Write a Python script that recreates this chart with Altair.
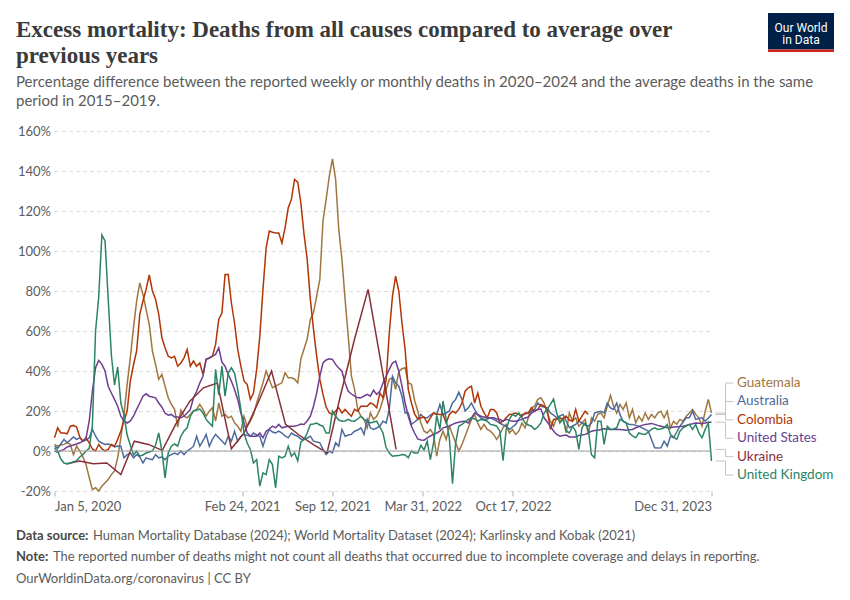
import altair as alt
import numpy as np
import pandas as pd

# Excess mortality, % vs 2015-2019 average.
# Weekly series: one value per week, first week ending Jan 5, 2020.
START = pd.Timestamp("2020-01-05")

guatemala = [
    3.3, 2.4, 3, 3.3, 4.1, 3.3, -1.8, 2.4, 0, -3, -6.8, -13.4, -19.3, -18.4, -20, -17.6,
    -15.9, -14.3, -11.8, -10, -3.4, 6.6, 18.3, 33.3, 46.6, 61.6, 74.9, 84, 78.3, 70.8, 63.3, 49.9,
    43.3, 35.8, 38.3, 32.4, 26.6, 23.3, 21, 12, 20.5, 17.4, 16.6, 18.3, 19.9, 20.8, 23.3, 20.8,
    17.4, 19.9, 21.6, 15, 24, 17.4, 18.3, 16.6, 17.4, 14.1, 12.4, 9.9, 17.4, 12.4, 14.9, 18.3,
    24, 29, 34.1, 40, 35.8, 31.6, 32.4, 33.3, 34.1, 39.1, 36.6, 36.6, 36, 34, 46, 51,
    56, 65.8, 69.1, 77.4, 85.8, 115, 125.8, 137.4, 146.1, 135.8, 110.8, 95.8, 75.8, 57.4, 37.4, 30.8,
    20.8, 17.4, 15.8, 11.6, 19.1, 15.8, 17.4, 20.8, 25.8, 30.8, 35.8, 36.6, 30.8, 39.9, 41.1, 41.6,
    34, 33.3, 25.4, 20, 14, 9.9, 9, 10.8, 8.3, -2.6, 5.8, 9.9, 5.8, 12.4, 8.3, 4.1,
    0, 3.3, 7.4, 11.6, 15.8, 18.3, 14, 10.8, 13.3, 10.8, 9.9, 8.3, 5.8, 8.3, 11.6, 13.3,
    9, 10.8, 8.3, 9.9, 14, 11.6, 16.6, 21.6, 22.4, 25.8, 26.6, 24, 19, 14.9, 12.4, 16.6,
    14.9, 16.6, 9.1, 19.1, 14.9, 16.6, 12.4, 14, 15.8, 8.3, 16.6, 14.9, 18.3, 19, 16.6, 22.4,
    27.8, 22.4, 19, 23.3, 20.8, 24, 16.6, 20.8, 14, 17.4, 14.9, 19, 15.8, 18.3, 16.6, 19,
    19.9, 16.6, 19.9, 11.6, 14.9, 13.3, 15.8, 14.9, 17.4, 19, 20.8, 18.3, 16.6, 12.4, 19.9, 25.8,
    19,
]

australia = [
    2.4, 1.3, 3.5, 5.8, 4.1, 5.5, 7, 5.8, 6.6, 4.9, 5.5, 6.6, 10.8, 7.4, 4.9, 4,
    3.3, 3.5, 3, 2, 2.5, 2.4, -3.4, -1.8, -1, -3.4, -1.8, -3, -6, -3.4, -4, -4.3,
    -1.8, -3.4, -3, -4.3, -2.5, -1.8, -1, -1.8, 0, -1.8, 0, 1, 2.4, 7.4, 2.4, 5,
    8.3, 2.4, 5.8, 8.3, 6.6, 5, 3.3, 7.4, 4.9, 9.9, 4.9, 7.4, 8.3, 7.8, 7.4, 9,
    8, 7.4, 2.4, 7.4, 10.8, 9.5, 9, 9.9, 9, 7.5, 6.6, 9, 8, 7.4, 6, 5.8,
    6.5, 7.4, 4.9, 4.5, 4.1, 0.8, -1.8, 0, -0.9, 4.1, 2.4, 10.8, 7.4, 8, 8.3, 9.9,
    10.5, 11.6, 8.3, 15.8, 11.6, 10.8, 11.5, 12.4, 14.9, 14, 20.8, 37.4, 34, 32.4, 27.4, 19,
    19, 13.3, 14.5, 15.8, 18.3, 16.6, 16.6, 18, 19, 18.3, 23.3, 18.3, 19, 20, 24, 25.8,
    29.4, 25.8, 20, 21.6, 24, 20.8, 18, 16.6, 15.8, 16, 16.6, 15.8, 15, 14, 13, 12.4,
    10.8, 12, 13.3, 15.8, 18.3, 18.5, 19, 20, 20.8, 24, 22.4, 22, 21.6, 19, 18, 16.6,
    17.5, 18.3, 15, 11.6, 12.5, 13.3, 14.9, 14, 13, 12.4, 14, 19, 19.5, 19.9, 19, 24,
    21.6, 20.8, 24, 18.3, 14.9, 14, 13.3, 13.3, 12.8, 12.4, 11.6, 10.8, 9.9, 5.8, 1.6, 1.5,
    1.6, 4.9, 2.4, 7.4, 6.6, 9.5, 12.4, 14.5, 16.6, 16.6, 19.9, 15.8, 16.2, 16.6, 14.9, 16.5,
    18.3,
]

colombia = [
    6.6, 11.6, 9, 9, 8.6, 12.4, 12.8, 12, 7, 4.9, 6.6, 4, 1, 0, 3.3, 1,
    0, 0.8, 3.3, 2.4, 5.8, 10, 15, 20, 35, 43, 50, 68.3, 75, 80.8, 88, 80,
    75.8, 68.3, 56.6, 51.6, 47.4, 46.6, 47.4, 42.4, 44, 46.6, 50.8, 42.4, 45, 42.4, 44, 38.3,
    45.8, 46.5, 47.4, 53.3, 65.8, 69, 88.3, 88.3, 74, 64, 50.8, 42.4, 35, 33.3, 25.8, 29,
    40.8, 57.4, 80.8, 101.6, 110, 109.4, 109, 109, 104, 111.6, 121.6, 125.8, 135.8, 134.4, 124, 108.3,
    95.8, 75.8, 60.8, 47.4, 35.8, 28.3, 22, 19, 18.3, 20, 21.6, 19, 20.8, 19, 17.4, 20.8,
    19.9, 22.4, 22.4, 22.4, 24, 23.3, 21.6, 29, 26.6, 35.8, 59.1, 77.4, 87.4, 80, 64, 50.8,
    30.8, 24, 18.5, 16, 16.6, 17, 14, 16.6, 19, 18.5, 18.3, 18.3, 14, 18.3, 19.9, 19,
    20.8, 24, 29.9, 31.6, 32.4, 24, 29, 22.4, 19, 16.6, 20.8, 20.8, 19, 14, 14.9, 16.6,
    18.3, 18.5, 19, 18.3, 17.4, 19, 19, 21.6, 19.9, 20.8, 23.3, 22.4, 20.8, 10.8, 15.8, 16,
    16.6, 15.8, 17.4, 15.5, 14.9, 20.8, 14.9, 17.4, 19.9, 18.3,
]

united_states = [
    0, -0.6, 0.2, 0.8, 2, 2.5, 3, 3.5, 4.1, 4.9, 6.6, 15, 30, 41.6, 45.3, 43.3,
    40, 32.4, 29, 25.8, 22.4, 17.4, 15, 14, 15, 17.4, 20.8, 24, 27.4, 28.6, 27.4, 27,
    26.6, 24, 21.9, 19, 17.9, 18.3, 17, 17, 16.6, 17.4, 19, 20.8, 26.6, 29.9, 34, 37.4,
    45.8, 46.5, 47.4, 48.3, 51.6, 44.4, 42.4, 38.3, 34.9, 30.8, 25.8, 19, 14, 9, 7.4, 7.4,
    7.4, 9, 6.6, 9.9, 11, 12.4, 11.6, 13.3, 11.6, 12, 12.4, 12.4, 12.4, 12.8, 13.5, 13.3,
    15, 17.4, 22.4, 29, 37.4, 44, 45.5, 46.1, 45.8, 43.3, 41.5, 39.9, 34, 29.9, 28.5, 27.4,
    26.6, 26.6, 27.5, 28.3, 27.4, 30.4, 28.3, 29.9, 34, 37.5, 40.8, 44, 44.9, 39.9, 32.4, 24,
    17.4, 12.4, 9, 6, 5.5, 5.4, 6.6, 7.5, 8.3, 9, 9.9, 11.6, 12, 12.4, 13.3, 14,
    14.4, 14.7, 14.9, 14, 16.6, 19, 18.3, 17.4, 17, 16.6, 16.6, 16.6, 16, 15.8, 14.9, 15.8,
    15.3, 14.9, 14.9, 15.3, 15.8, 16.5, 17, 19, 20, 20.8, 21, 16.6, 14.5, 12.4, 10, 8.3,
    7.4, 7.8, 8, 7, 7, 7, 7.8, 8, 8.3, 9, 9.9, 10.2, 10.4, 10.8, 11.1, 11,
    10.8, 10.8, 10.8, 10.8, 10.6, 10.4, 10.6, 10.8, 11.6, 12.2, 12.8, 13.3, 13.5, 13.8, 13.3, 12.8,
    12.4, 12, 11.6, 11.8, 12, 12.1, 12.2, 12.4, 12.8, 13.3, 13.6, 14, 13.9, 13.8, 14, 14.4,
    14.4,
]

united_kingdom = [
    1.5, 0, -4, -6, -6.4, -6, -5.4, -4.8, -3, -1.8, 0, 1.3, 13, 60, 77, 108,
    105, 76, 48, 33, 42, 24, 18, 8, 3, -2, 0, -2.6, -2, -1, -0.5, 0,
    3, 9, 0, -13.4, -1, 2.4, 3.5, 2.5, 7.4, 10, 11.6, 17.4, 20, 20.5, 21, 19,
    15.8, 14, 12.4, 40.8, 28, 42.4, 27.4, 39, 41.6, 39, 30.8, 20.8, 9, 4, 0.8, -6,
    -4.3, -17.6, -10.9, -11.8, -4.3, -6.8, -18.4, -2.6, -3.4, -2.6, 2.4, -2.6, -0.9, -5, 4.5, 5.8,
    9, 13.3, 13.5, 14, 13, 12.4, 9, 9, 19.9, 17.4, 15.5, 14.9, 15, 15.8, 15, 14.9,
    16, 17.4, 15.8, 15, 14, 14.5, 14.9, 12, 9, 1.6, -1, -2.6, -2.4, -2.3, -1.8, -2,
    -3.4, 0, -1, -1, 2.8, 0.5, 4.9, -4.3, 4, 17.8, 10.8, 25, 15.8, 6.6, -16.3, 4.1,
    12.4, 13.3, 14.5, 15.8, 16.6, 16, 14.9, 15.8, 15.5, 14.9, 13.3, 13, 12.4, 9.9, -4.8, 10.8,
    15.8, 18.3, 17.4, 19, 16.6, 14, 13, 12.4, 10.8, 12, 14, 19, 21, 23.3, 26, 19,
    14, 16, 10, 9, 12.4, 9.9, 0.8, 11.6, 14, 10.8, -1.8, -3.4, 14.9, 14.9, 3.3, 12.4,
    10.8, 11, 11.6, 15.8, 15, 14, 9, 7.5, 6.6, 9, 8.5, 8.3, 9.5, 10.8, 11.6, 10.8,
    11, 11.6, 13.3, 8.3, 7, 5.8, 9.9, 11.6, 12.5, 13.3, 10.8, 13.3, 9, 6.6, 10.8, 14,
    -5,
]

# Ukraine reports monthly (value at month end)
ukraine_months = [
    "2020-01-31", "2020-02-29", "2020-03-31", "2020-04-30", "2020-05-31", "2020-06-30",
    "2020-07-31", "2020-08-31", "2020-09-30", "2020-10-31", "2020-11-30", "2020-12-31",
    "2021-01-31", "2021-02-28", "2021-03-31", "2021-04-30", "2021-05-31", "2021-06-30",
    "2021-07-31", "2021-08-31", "2021-09-30", "2021-10-31", "2021-11-30", "2021-12-31",
    "2022-01-31",
]
ukraine = [
    -6.5, -5, -6.4, -6, -11.8, 4.9, 3.3, 0.3, 13.6, 24.9, 31.6, 34,
    1.1, 9, 24, 40, 13.3, 8, 3.3, -0.9, 28, 56, 80.8, 40.8, 0.8,
]

countries = ["Guatemala", "Australia", "Colombia", "United States", "Ukraine", "United Kingdom"]
colors = ["#a0763f", "#4c6a9c", "#b13507", "#6d3e91", "#883039", "#2c8465"]

x_ticks = ["2020-01-05", "2021-02-24", "2021-09-12", "2022-03-31", "2022-10-17", "2023-12-31"]
y_ticks = [-20, 0, 20, 40, 60, 80, 100, 120, 140, 160]

title_lines = [
    "Excess mortality: Deaths from all causes compared to average over",
    "previous years",
]
subtitle_lines = [
    "Percentage difference between the reported weekly or monthly deaths in 2020–2024 and the average deaths in the same",
    "period in 2015–2019.",
]
source_text = "Human Mortality Database (2024); World Mortality Dataset (2024); Karlinsky and Kobak (2021)"
note_text = "The reported number of deaths might not count all deaths that occurred due to incomplete coverage and delays in reporting."
url_text = "OurWorldinData.org/coronavirus | CC BY"

W, H = 657, 360
FONT = "Lato"
GREY = "#5b5b5b"


def weekly(name, values):
    dates = START + pd.to_timedelta(np.arange(len(values)) * 7, unit="D")
    return pd.DataFrame({"date": dates, "value": values, "country": name})


df = pd.concat([
    weekly("Guatemala", guatemala),
    weekly("Australia", australia),
    weekly("Colombia", colombia),
    weekly("United States", united_states),
    pd.DataFrame({"date": pd.to_datetime(ukraine_months), "value": ukraine, "country": "Ukraine"}),
    weekly("United Kingdom", united_kingdom),
], ignore_index=True)


def spread(vals, gap):
    """Push label positions apart so that neighbours are at least `gap` apart."""
    pos = list(vals)
    for _ in range(2000):
        done = True
        for i in range(1, len(pos)):
            overlap = gap - (pos[i - 1] - pos[i])
            if overlap > 1e-6:
                pos[i - 1] += overlap / 2
                pos[i] -= overlap / 2
                done = False
        if done:
            break
    return pos


last = df.groupby("country", sort=False)["value"].last()
order = sorted(countries, key=lambda c: -last[c])
labels = pd.DataFrame({"country": order, "value": [last[c] for c in order]})
labels["pos"] = spread(labels["value"].tolist(), 9.2)


def dt(s):
    t = pd.Timestamp(s)
    return alt.DateTime(year=t.year, month=t.month, date=t.day)


x_scale = alt.Scale(domain=[dt(x_ticks[0]), dt(x_ticks[-1])])
y_scale = alt.Scale(domain=[-20, 160], nice=False, zero=False)
color_scale = alt.Scale(domain=countries, range=colors)

# same y axis on every layer so the merged axis keeps its grid and labels
y_axis = alt.Axis(
    values=y_ticks,
    labelExpr="datum.value + '%'",
    title=None, domain=False, ticks=False,
    grid=True, gridDash=[4, 3], gridColor="#dcdcdc",
    labelFont=FONT, labelFontSize=13, labelColor=GREY, labelPadding=4,
)

lines = alt.Chart(df).mark_line(strokeWidth=1.5).encode(
    x=alt.X(
        "date:T",
        scale=x_scale,
        axis=alt.Axis(
            values=[dt(t) for t in x_ticks],
            format="%b %-d, %Y",
            labelAlign={"expr": "datum.index == 0 ? 'left' : (datum.index == 1 ? 'right' : 'center')"},
            title=None, grid=False, domain=False,
            tickSize=5, tickColor="#b0b0b0",
            labelFont=FONT, labelFontSize=13, labelColor=GREY, labelPadding=4,
        ),
    ),
    y=alt.Y("value:Q", scale=y_scale, axis=y_axis),
    color=alt.Color("country:N", scale=color_scale, legend=None),
    detail="country:N",
)

zero = alt.Chart(pd.DataFrame({"value": [0]})).mark_rule(color="#9e9e9e", strokeWidth=1).encode(
    y=alt.Y("value:Q", scale=y_scale, axis=y_axis),
)

# connectors from the line ends to the labels at the right
conn_base = alt.Chart(labels).mark_rule(color="#c4c4c4", strokeWidth=1)
conn1 = conn_base.encode(
    x=alt.value(W + 4), x2=alt.value(W + 14),
    y=alt.Y("value:Q", scale=y_scale, axis=y_axis),
)
conn2 = conn_base.encode(
    x=alt.value(W + 14),
    y=alt.Y("value:Q", scale=y_scale, axis=y_axis), y2="pos:Q",
)
conn3 = conn_base.encode(
    x=alt.value(W + 14), x2=alt.value(W + 22),
    y=alt.Y("pos:Q", scale=y_scale, axis=y_axis),
)
label_text = alt.Chart(labels).mark_text(
    align="left", baseline="middle", font=FONT, fontSize=13.5,
).encode(
    x=alt.value(W + 25.5),
    y=alt.Y("pos:Q", scale=y_scale, axis=y_axis),
    text="country:N",
    color=alt.Color("country:N", scale=color_scale, legend=None),
)


def text(t, x, y, size, color=GREY, weight="normal", font=FONT, align="left"):
    return alt.Chart(pd.DataFrame({"t": [t]})).mark_text(
        align=align, baseline="alphabetic", font=font, fontSize=size,
        fontWeight=weight, color=color,
    ).encode(text="t:N", x=alt.value(x), y=alt.value(y))


LX = -38.5  # left edge of the header / footer text, relative to the plot
header = [
    text(title_lines[0], LX, -94, 23, "#3a3a3a", "bold", "Liberation Serif"),
    text(title_lines[1], LX, -68, 23, "#3a3a3a", "bold", "Liberation Serif"),
    text(subtitle_lines[0], LX, -44, 15),
    text(subtitle_lines[1], LX, -25, 15),
]
footer = [
    text("Data source:", LX, 409, 13, "#4a4a4a", "bold"),
    text(source_text, LX + 77, 409, 13),
    text("Note:", LX, 430, 13, "#4a4a4a", "bold"),
    text(note_text, LX + 37, 430, 13),
    text(url_text, LX, 452, 13),
]

logo_box = alt.Chart(pd.DataFrame({"a": [0]})).mark_rect(color="#002147").encode(
    x=alt.value(713.5), x2=alt.value(779.5), y=alt.value(-118), y2=alt.value(-81.5),
)
logo_strip = alt.Chart(pd.DataFrame({"a": [0]})).mark_rect(color="#ce261e").encode(
    x=alt.value(713.5), x2=alt.value(779.5), y=alt.value(-81.5), y2=alt.value(-79),
)
logo = [
    logo_box, logo_strip,
    text("Our World", 746.5, -99.5, 12, "white", "normal", "Roboto", "center"),
    text("in Data", 746.5, -87, 12, "white", "normal", "Roboto", "center"),
]

chart = alt.layer(
    lines, zero, conn1, conn2, conn3, label_text, *header, *footer, *logo,
).properties(
    width=W,
    height=H,
    autosize=alt.AutoSizeParams(type="none"),
    padding={"left": 46.5, "top": 123, "right": 130, "bottom": 100},
).configure_view(stroke=None)

chart.save("out.html", embed_options={"renderer": "svg", "actions": False})
